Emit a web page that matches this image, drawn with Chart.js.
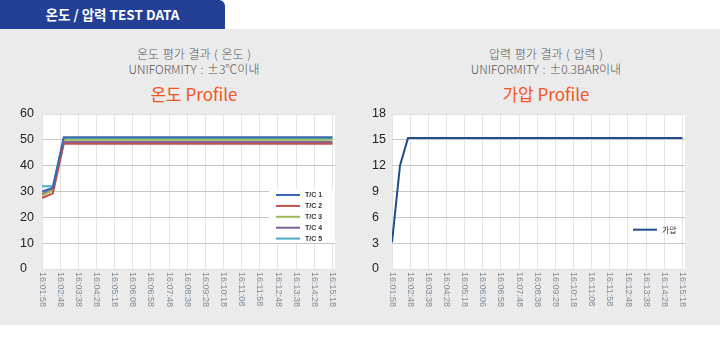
<!DOCTYPE html>
<html><head><meta charset="utf-8">
<script src="https://cdn.jsdelivr.net/npm/chart.js@4.4.0/dist/chart.umd.min.js"></script>
<style>
html,body{margin:0;padding:0;background:#fff;width:720px;height:361px;overflow:hidden;font-family:'Noto Sans CJK KR','Noto Sans',sans-serif;}
#tab{position:absolute;left:0;top:0;width:225px;height:29px;background:#233f96;border-top-right-radius:6px;color:#fff;font-size:13.5px;font-weight:700;line-height:29px;text-align:center;}
#panel{position:absolute;left:0;top:29px;width:720px;height:296px;background:#ebebeb;}
.sub{position:absolute;width:300px;text-align:center;color:#555;font-size:12px;line-height:15px;font-weight:300;word-spacing:1px;}
.ttl{position:absolute;width:300px;text-align:center;color:#f2561d;font-size:17px;line-height:22px;}
.cw{position:absolute;}
</style></head>
<body>
<div id="panel"></div>
<div id="tab">온도 / 압력 TEST DATA</div>
<div class="sub" style="left:44px;top:46px;">온도 평가 결과 ( 온도 )<br>UNIFORMITY : ±3℃이내</div>
<div class="ttl" style="left:44px;top:83px;">온도 Profile</div>
<div class="sub" style="left:396px;top:46px;">압력 평가 결과 ( 압력 )<br>UNIFORMITY : ±0.3BAR이내</div>
<div class="ttl" style="left:396px;top:83px;">가압 Profile</div>
<div class="cw" style="left:0;top:100px;width:345px;height:225px;"><canvas id="c1" width="345" height="225"></canvas></div>
<div class="cw" style="left:360px;top:100px;width:335px;height:225px;"><canvas id="c2" width="335" height="225"></canvas></div>
<script>
// ---- data ----
const tempLabels = ['16:01:58','16:02:48','16:03:38','16:04:28','16:05:18','16:06:08','16:06:58','16:07:48','16:08:38','16:09:28','16:10:18','16:11:08','16:11:58','16:12:48','16:13:38','16:14:28','16:15:18'];
const presLabels = ['16:01:58','16:02:48','16:03:38','16:04:28','16:05:18','16:06:06','16:06:58','16:07:48','16:08:38','16:09:28','16:10:18','16:11:08','16:11:58','16:12:48','16:13:38','16:14:28','16:15:18'];
const tempTimes = [0, 30, 60, 800];   // seconds after 16:01:58
const tc1 = [30, 31.5, 51, 51];
const tc2 = [27.5, 29.3, 48.5, 48.5];
const tc3 = [28.5, 30.5, 50, 50];
const tc4 = [29, 31, 49.2, 49.2];
const tc5 = [32, 32, 50.6, 50.6];
const presTimes = [0, 22, 44, 800];
const pressure = [3.1, 12, 15.2, 15.2];
const tempNames = ['T/C 1','T/C 2','T/C 3','T/C 4','T/C 5'];
const presName = '가압';

const pts = (t, v) => t.map((x, i) => ({x, y: v[i]}));

const bgPlugin = {id:'bg', beforeDraw(chart){const a=chart.chartArea,c=chart.ctx;c.save();c.fillStyle='#fff';c.fillRect(a.left,a.top,a.right-a.left,a.bottom-a.top);c.restore();}};
const xLabPlugin = {id:'xlab', afterDraw(chart){
  const s=chart.scales.x,c=chart.ctx;c.save();c.fillStyle='#7f8c97';c.font='9px "Liberation Sans", Arial, sans-serif';c.textAlign='left';c.textBaseline='middle';
  s.ticks.forEach(t=>{const x=s.getPixelForValue(t.value);c.save();c.translate(x,s.top+3);c.rotate(Math.PI/2);c.fillText(t.label,0,0);c.restore();});
  c.restore();}};
const legPlugin = {id:'inleg', afterDatasetsDraw(chart, args, o){
  const a=chart.chartArea,c=chart.ctx;c.save();
  if(o.box){c.fillStyle='#fff';c.fillRect(a.right-o.bw,o.by,o.bw,o.bh);}
  c.font=o.font;c.textAlign='left';c.textBaseline='middle';
  chart.data.datasets.forEach((d,i)=>{const y=o.y+i*o.dy;c.strokeStyle=d.borderColor;c.lineWidth=2;c.beginPath();c.moveTo(a.right-o.rx,y);c.lineTo(a.right-o.rx+24,y);c.stroke();c.fillStyle='#333';c.fillText(d.label,a.right-o.rx+29,y);});
  c.restore();}};

function makeChart(id, labels, datasets, ymax, ystep, legOpts, padLeft, yw){
  return new Chart(document.getElementById(id), {
    type:'line',
    data:{datasets},
    options:{
      responsive:false, animation:false, devicePixelRatio:1,
      layout:{padding:{left:padLeft,right:10,top:14,bottom:0}},
      elements:{point:{radius:0},line:{borderWidth:2,tension:0}},
      plugins:{legend:{display:false},tooltip:{enabled:false},inleg:legOpts},
      scales:{
        x:{type:'linear',min:0,max:807,
          ticks:{stepSize:50,includeBounds:false,color:'rgba(0,0,0,0)',maxRotation:0,minRotation:0,autoSkip:false,font:{size:1},callback:v=>labels[Math.round(v/50)]},
          grid:{color:'#e4e4e4',drawTicks:false},border:{display:false},
          afterFit:s=>{s.height=56;}},
        y:{min:0,max:ymax,
          ticks:{stepSize:ystep,crossAlign:'far',color:'#222',padding:0,font:{family:'"Liberation Sans", Arial, sans-serif',size:12.5}},
          grid:{drawTicks:false,color:c=>c.tick.value===ymax||c.tick.value===0?'#e2e2e2':'#c6c6c6'},border:{display:false},
          afterFit:s=>{s.width=yw;}}
      }
    },
    plugins:[bgPlugin,xLabPlugin,legPlugin]
  });
}

const tempColors=['#3a69b0','#c0504d','#9bbb59','#8064a2','#4bacc6'];
const tempData=[tc1,tc2,tc3,tc4,tc5];
makeChart('c1', tempLabels,
  tempData.map((v,i)=>({label:tempNames[i],data:pts(tempTimes,v),borderColor:tempColors[i],backgroundColor:tempColors[i]})),
  60, 10, {box:true,bw:66,by:89,bh:54,y:95,dy:10.9,rx:59,font:'bold 7px "Liberation Sans", Arial, sans-serif'}, 20, 22);
makeChart('c2', presLabels,
  [{label:presName,data:pts(presTimes,pressure),borderColor:'#1f4e8d',backgroundColor:'#1f4e8d'}],
  18, 3, {box:false,y:129.7,dy:0,rx:52,font:'8px "Noto Sans CJK KR", sans-serif'}, 12, 20);
</script>
</body></html>
